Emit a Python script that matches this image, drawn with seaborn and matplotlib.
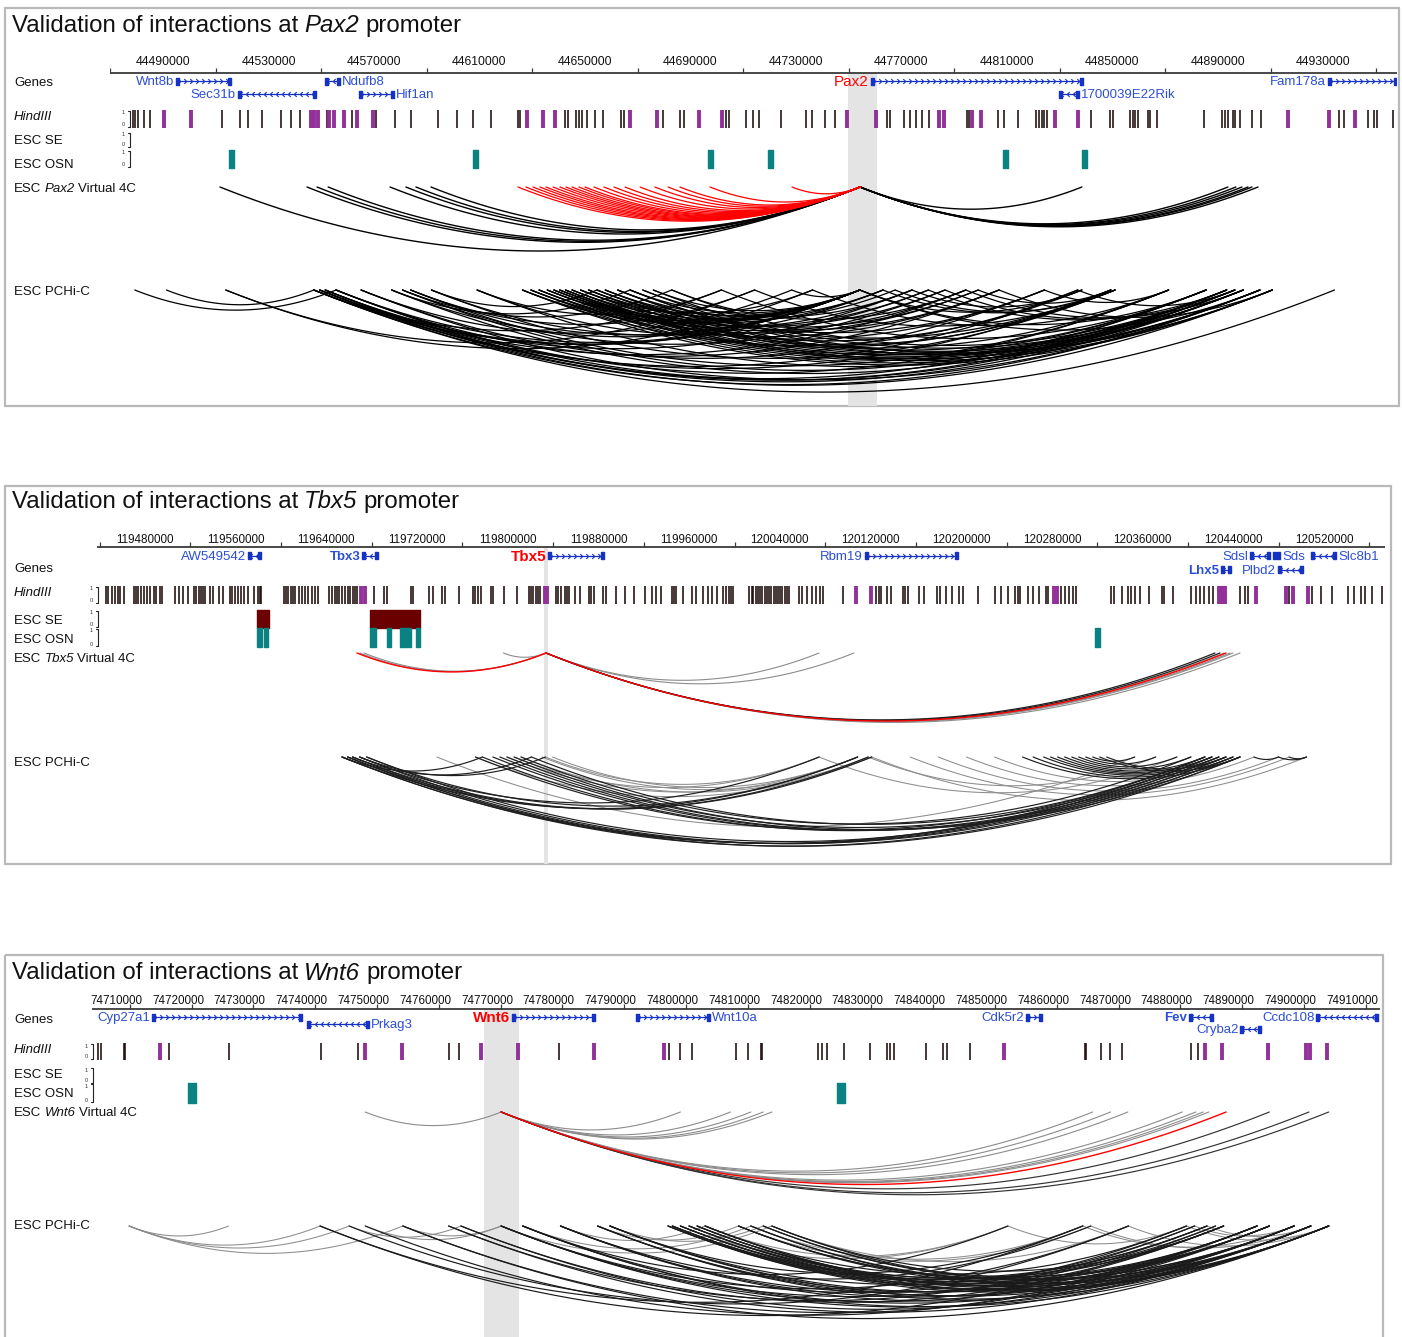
import numpy as np
import matplotlib
matplotlib.use("Agg")
import matplotlib.pyplot as plt
import seaborn as sns
from matplotlib.path import Path
from matplotlib.patches import Rectangle

sns.set_theme(style="white")
plt.rcParams['font.family'] = ['Liberation Sans', 'DejaVu Sans']

# %% data (all genomic positions in kb)
pax2_region = (44469.9, 44957.9)
pax2_tick_labels = [44490, 44530, 44570, 44610, 44650, 44690, 44730, 44770, 44810, 44850, 44890, 44930]
pax2_genes = [  # name, start, end, strand, row, label side, bold, target
    ('Wnt8b', 44494.9, 44515.8, '+', 0, 'L', False, False),
    ('Sec31b', 44518.4, 44548.0, '-', 1, 'L', False, False),
    ('Ndufb8', 44551.4, 44557.1, '-', 0, 'R', False, False),
    ('Hif1an', 44564.3, 44577.6, '+', 1, 'R', False, False),
    ('Pax2', 44758.4, 44838.8, '+', 0, 'L', False, True),
    ('1700039E22Rik', 44829.7, 44837.3, '-', 1, 'R', False, False),
    ('Fam178a', 44931.7, 44957.9, '+', 0, 'L', False, False),
]
pax2_hind_black = [44478.5, 44479.5, 44480.5, 44482.7, 44484.9, 44512.5, 44519.1, 44522.2, 44527.7, 44534.9,
                   44538.5, 44541.9, 44552.2, 44561.6, 44570.9, 44578.0, 44584.0, 44594.3, 44601.4, 44607.5,
                   44614.2, 44624.6, 44625.5, 44642.3, 44643.7, 44646.6, 44647.7, 44648.8, 44650.6, 44653.8,
                   44656.7, 44663.7, 44664.8, 44679.6, 44686.0, 44687.5, 44703.5, 44704.5, 44711.0, 44713.6,
                   44716.1, 44724.2, 44733.7, 44736.1, 44741.2, 44744.8, 44764.7, 44765.5, 44771.1, 44773.2,
                   44775.5, 44777.8, 44780.3, 44794.7, 44795.7, 44806.7, 44808.7, 44814.1, 44820.9, 44822.3,
                   44823.3, 44824.0, 44825.3, 44841.7, 44849.0, 44850.2, 44856.6, 44857.8, 44858.7, 44859.8,
                   44863.4, 44864.2, 44866.9, 44884.6, 44891.5, 44892.7, 44893.8, 44895.7, 44896.4, 44898.3,
                   44902.9, 44906.3, 44935.9, 44937.7, 44946.9, 44949.2, 44950.3, 44956.4]
pax2_hind_purple = [44490.2, 44500.5, 44546.2, 44547.2, 44548.9, 44552.9, 44554.8, 44558.6, 44563.6, 44569.5,
                    44628.1, 44634.2, 44638.8, 44666.9, 44677.3, 44693.1, 44701.9, 44749.5, 44760.5, 44784.1,
                    44786.3, 44796.9, 44800.3, 44828.2, 44836.8, 44916.7, 44932.3, 44941.8]
pax2_se = []
pax2_osn = [(44515.0, 44517.0), (44607.4, 44609.4), (44696.5, 44698.5), (44719.3, 44721.3),
            (44808.5, 44810.5), (44838.5, 44840.5)]
pax2_view = (44749.7, 44760.7)
pax2_anchor = 44754.3
pax2_v4c_black = [44511.6, 44544.6, 44548.4, 44552.6, 44576.1, 44582.1, 44585.9, 44591.6,
                  44838.4, 44893.8, 44896.8, 44899.1, 44901.4, 44902.9, 44905.2]
pax2_v4c_red = [44624.6, 44627.6, 44630.3, 44632.9, 44635.2, 44637.9, 44640.5, 44642.8, 44645.1, 44647.7,
                44650.0, 44653.4, 44657.2, 44661.0, 44665.2, 44670.9, 44676.5, 44681.5, 44686.0, 44697.4, 44728.5]
pax2_pchic = [
    (44479.3, 44555.6), (44491.3, 44547.2), (44513.8, 44736.3), (44513.8, 44714.3),
    (44547.2, 44934.2), (44547.2, 44905.9), (44547.2, 44836.8), (44547.2, 44754.2), (44547.2, 44701.7),
    (44549.4, 44910.6), (44549.4, 44885.5), (44549.4, 44794.4), (44549.4, 44754.2),
    (44551.5, 44899.6), (44551.5, 44893.3), (44551.5, 44849.4), (44551.5, 44774.0),
    (44555.6, 44896.4), (44555.6, 44871.3), (44555.6, 44807.0), (44555.6, 44754.2),
    (44565.1, 44905.9), (44565.1, 44824.2), (44565.1, 44728.4),
    (44576.7, 44893.3), (44576.7, 44754.2), (44576.7, 44667.1),
    (44580.8, 44885.5), (44580.8, 44786.5), (44580.8, 44682.9),
    (44583.9, 44871.3), (44583.9, 44754.2), (44583.9, 44714.3),
    (44591.8, 44851.0), (44591.8, 44763.0), (44591.8, 44654.6),
    (44609.1, 44899.6), (44609.1, 44780.2), (44609.1, 44701.7),
    (44626.3, 44910.6), (44626.3, 44836.8), (44626.3, 44754.2),
    (44629.5, 44905.9), (44629.5, 44807.0), (44629.5, 44754.2),
    (44632.6, 44899.6), (44632.6, 44849.4), (44632.6, 44774.0),
    (44635.7, 44896.4), (44635.7, 44799.1), (44635.7, 44754.2),
    (44638.2, 44893.3), (44638.2, 44824.2), (44638.2, 44763.0),
    (44640.4, 44885.5), (44640.4, 44794.4), (44640.4, 44754.2),
    (44642.6, 44910.6), (44642.6, 44851.0), (44642.6, 44780.2),
    (44645.1, 44905.9), (44645.1, 44838.4), (44645.1, 44754.2),
    (44648.3, 44899.6), (44648.3, 44786.5), (44648.3, 44736.3),
    (44651.4, 44896.4), (44651.4, 44871.3), (44651.4, 44754.2),
    (44654.6, 44893.3), (44654.6, 44807.0), (44654.6, 44767.6),
    (44657.7, 44885.5), (44657.7, 44799.1), (44657.7, 44754.2),
    (44662.4, 44905.9), (44662.4, 44824.2), (44662.4, 44763.0),
    (44667.1, 44899.6), (44667.1, 44849.4), (44667.1, 44754.2),
    (44671.9, 44910.6), (44671.9, 44774.0), (44675.9, 44896.4), (44675.9, 44754.2),
    (44682.9, 44893.3), (44682.9, 44794.4),
    (44701.7, 44885.5), (44714.3, 44851.0), (44728.4, 44754.2), (44736.3, 44871.3),
    (44754.2, 44885.5), (44754.2, 44838.4), (44754.2, 44905.9),
    (44763.0, 44849.4), (44767.6, 44851.0), (44774.0, 44838.4), (44780.2, 44893.3), (44786.5, 44896.4),
    (44794.4, 44899.6), (44799.1, 44849.4), (44807.0, 44910.6), (44824.2, 44871.3), (44836.8, 44896.4),
]
pax2_pchic_gray = []

tbx5_region = (119437.7, 120573.7)
tbx5_tick_labels = [119480, 119560, 119640, 119720, 119800, 119880, 119960, 120040, 120120, 120200,
                    120280, 120360, 120440, 120520]
tbx5_genes = [
    ('AW549542', 119570.8, 119582.3, '-', 0, 'L', False, False),
    ('Tbx3', 119671.8, 119685.2, '-', 0, 'L', True, False),
    ('Tbx5', 119835.6, 119884.5, '+', 0, 'L', True, True),
    ('Rbm19', 120115.0, 120196.9, '+', 0, 'L', False, False),
    ('Sdsl', 120454.6, 120472.3, '-', 0, 'L', False, False),
    ('Sds', 120474.7, 120481.1, '-', 0, 'R', False, False),
    ('Slc8b1', 120508.2, 120530.5, '-', 0, 'R', False, False),
    ('Lhx5', 120429.0, 120437.9, '-', 1, 'L', True, False),
    ('Plbd2', 120479.3, 120501.1, '-', 1, 'L', False, False),
]
tbx5_hind_black = [119445.8, 119447.8, 119450.5, 119453.7, 119456.4, 119458.4, 119461.6, 119470.2, 119472.2,
                   119474.2, 119476.5, 119478.9, 119481.6, 119484.4, 119487.6, 119489.9, 119493.1, 119495.4,
                   119506.5, 119509.6, 119513.9, 119517.9, 119523.4, 119525.4, 119527.3, 119529.3, 119531.3,
                   119533.2, 119537.2, 119539.9, 119545.0, 119549.0, 119554.9, 119557.2, 119559.6, 119562.0,
                   119565.1, 119567.1, 119571.0, 119576.5, 119579.3, 119581.3, 119582.4, 119602.9, 119604.5,
                   119606.5, 119608.4, 119610.4, 119612.4, 119616.3, 119618.7, 119621.0, 119623.8, 119626.9,
                   119629.7, 119632.5, 119642.7, 119645.4, 119647.4, 119649.4, 119651.3, 119653.7, 119656.1,
                   119659.2, 119661.2, 119663.2, 119665.1, 119667.1, 119682.1, 119690.7, 119693.1, 119714.7,
                   119716.3, 119730.9, 119734.0, 119741.9, 119744.7, 119756.9, 119769.5, 119771.4, 119773.4,
                   119776.2, 119785.2, 119787.2, 119797.0, 119807.7, 119818.3, 119820.7, 119822.6, 119824.6,
                   119826.6, 119828.5, 119842.3, 119844.3, 119846.7, 119850.2, 119852.2, 119854.2, 119858.9,
                   119864.0, 119871.9, 119873.8, 119875.8, 119883.7, 119886.8, 119895.5, 119903.4, 119911.2,
                   119921.1, 119927.0, 119930.9, 119934.9, 119944.7, 119946.7, 119948.6, 119954.5, 119962.4,
                   119966.3, 119972.6, 119976.6, 119980.5, 119984.5, 119990.0, 119992.3, 119994.7, 119997.1,
                   119999.0, 120012.8, 120015.2, 120016.7, 120018.7, 120020.7, 120022.7, 120024.6, 120026.6,
                   120028.6, 120030.5, 120032.5, 120034.5, 120036.4, 120038.4, 120040.4, 120042.3, 120044.3,
                   120046.3, 120048.3, 120056.9, 120059.3, 120064.0, 120067.9, 120071.9, 120075.8, 120078.2,
                   120095.5, 120125.0, 120127.0, 120129.0, 120134.1, 120138.0, 120148.7, 120150.6, 120152.6,
                   120162.4, 120167.2, 120178.2, 120181.0, 120186.9, 120192.0, 120197.9, 120201.8, 120214.8,
                   120229.4, 120235.3, 120241.2, 120247.1, 120249.9, 120252.2, 120258.9, 120262.9, 120268.8,
                   120275.1, 120276.6, 120287.7, 120291.6, 120294.7, 120298.3, 120301.0, 120332.1, 120334.9,
                   120341.6, 120346.7, 120349.9, 120353.4, 120357.3, 120365.2, 120377.0, 120379.0, 120386.9,
                   120402.6, 120406.6, 120410.5, 120414.4, 120418.4, 120422.3, 120445.9, 120449.9, 120453.0,
                   120489.2, 120508.9, 120517.6, 120526.7, 120541.2, 120546.3, 120552.3, 120556.2, 120562.1,
                   120571.2]
tbx5_hind_purple = [119670.3, 119674.2, 119832.5, 119834.4, 120107.3, 120120.3, 120281.7, 120284.5, 120427.4,
                    120430.2, 120433.0, 120459.7, 120486.5, 120492.4, 120506.2]
tbx5_se = [(119578.8, 119589.4), (119678.9, 119723.0)]
tbx5_osn = [(119578.8, 119583.6), (119585.0, 119588.5), (119678.9, 119684.0), (119693.1, 119697.4),
            (119705.3, 119714.3), (119719.0, 119723.0), (120318.3, 120321.9)]
tbx5_view = (119832.0, 119835.5)
tbx5_anchor = 119833.7
tbx5_v4c_black = [120423.7, 120428.1]
tbx5_v4c_gray = [119669.6, 119673.2, 119796.1, 120074.5, 120105.3, 120431.6, 120437.0, 120439.6, 120445.8]
tbx5_v4c_red = [119667.0, 120433.4]
tbx5_pchic = [
    (119653.8, 120414.8), (119658.8, 120421.0), (119663.1, 120427.2), (119669.3, 120433.4),
    (119653.8, 120439.6), (119658.8, 120445.8), (119675.5, 120421.0),
    (119771.4, 120414.8), (119777.6, 120427.2), (119786.8, 120433.4), (119793.0, 120439.6),
    (119799.2, 120421.0), (119805.5, 120445.8), (119811.6, 120402.5), (119820.9, 120414.8),
    (119653.8, 120108.6), (119658.8, 120117.9), (119663.1, 120121.0), (119669.3, 120074.6), (119675.5, 120108.6),
    (119663.1, 119820.9), (119669.3, 119833.2), (119653.8, 119777.6),
    (120254.0, 120445.8), (120263.3, 120439.6), (120272.6, 120433.4), (120278.7, 120427.2),
    (120284.9, 120421.0), (120291.1, 120414.8), (120297.4, 120402.5), (120303.5, 120390.1),
    (120309.7, 120371.5), (120315.9, 120353.0), (120322.0, 120445.8), (120328.2, 120433.4),
    (120458.1, 120479.8), (120479.8, 120504.5), (120489.1, 120504.5),
]
tbx5_pchic_gray = [
    (119833.2, 120074.6), (119839.4, 120108.6), (119830.2, 120117.9), (119811.6, 120121.0),
    (119805.5, 120074.6), (119799.2, 120108.6), (119737.4, 120353.0), (119771.4, 120121.0),
    (120155.0, 120489.1), (120121.0, 120504.5), (120179.8, 120479.8), (120204.5, 120458.1),
    (120229.3, 120445.8), (120117.9, 120371.5), (120074.6, 120390.1),
]

wnt6_region = (74706.1, 74914.5)
wnt6_tick_labels = list(range(74710, 74911, 10))
wnt6_genes = [
    ('Cyp27a1', 74715.8, 74740.0, '+', 0, 'L', False, False),
    ('Prkag3', 74740.9, 74750.9, '-', 1, 'R', False, False),
    ('Wnt6', 74774.1, 74787.5, '+', 0, 'L', True, True),
    ('Wnt10a', 74794.2, 74806.1, '+', 0, 'R', False, False),
    ('Cdk5r2', 74857.3, 74859.8, '+', 0, 'L', False, False),
    ('Fev', 74883.6, 74887.5, '-', 0, 'L', True, False),
    ('Cryba2', 74891.9, 74895.3, '-', 2, 'L', False, False),
    ('Ccdc108', 74904.2, 74914.1, '-', 0, 'L', False, False),
]
wnt6_hind_black = [74707.1, 74707.5, 74711.2, 74711.4, 74718.5, 74728.2, 74743.1, 74749.1, 74763.9, 74765.5,
                   74781.6, 74799.4, 74801.2, 74803.2, 74810.3, 74812.3, 74814.3, 74814.5, 74823.5, 74824.2,
                   74825.1, 74827.8, 74832.0, 74834.7, 74835.2, 74835.9, 74841.0, 74843.8, 74844.4, 74848.2,
                   74866.7, 74867.0, 74869.3, 74870.8, 74872.7, 74884.0, 74885.0]
wnt6_hind_purple = [74717.1, 74750.3, 74756.3, 74769.1, 74775.1, 74787.4, 74798.7, 74853.6, 74886.2, 74889.0,
                    74896.3, 74902.6, 74903.2, 74905.9]
wnt6_se = []
wnt6_osn = [(74721.6, 74722.9), (74826.6, 74828.0)]
wnt6_view = (74769.5, 74775.2)
wnt6_anchor = 74772.3
wnt6_v4c_black = [74896.6, 74903.0, 74906.2]
wnt6_v4c_gray = [74750.3, 74801.3, 74809.4, 74812.7, 74814.7, 74816.1, 74868.0, 74870.9, 74873.7,
                 74882.5, 74884.7, 74885.9, 74886.8]
wnt6_v4c_red = [74889.6]
wnt6_pchic = [
    (74743.0, 74887.9), (74750.3, 74894.6), (74756.4, 74896.6), (74763.8, 74884.5), (74765.8, 74889.2),
    (74772.3, 74886.5), (74772.3, 74873.8), (74775.8, 74900.6), (74775.8, 74883.2), (74781.9, 74903.3),
    (74781.9, 74889.2), (74787.9, 74906.2), (74787.9, 74894.6), (74789.9, 74896.6), (74789.9, 74884.5),
    (74799.3, 74906.2), (74799.3, 74900.6), (74800.0, 74903.3), (74800.0, 74896.6), (74801.3, 74894.6),
    (74801.3, 74887.9), (74802.7, 74906.2), (74802.7, 74886.5), (74804.0, 74900.6), (74804.0, 74889.2),
    (74805.3, 74903.3), (74805.3, 74883.2), (74810.7, 74896.6), (74810.7, 74894.6), (74812.7, 74906.2),
    (74814.7, 74900.6), (74816.1, 74903.3), (74775.8, 74854.3), (74781.9, 74867.7), (74789.9, 74866.4),
    (74775.8, 74906.2), (74781.9, 74896.6), (74787.9, 74900.6), (74789.9, 74903.3), (74799.3, 74889.2),
    (74800.0, 74886.5), (74801.3, 74906.2), (74802.7, 74896.6), (74804.0, 74894.6), (74805.3, 74906.2),
    (74810.7, 74903.3), (74812.7, 74900.6), (74814.7, 74896.6), (74816.1, 74889.2), (74763.8, 74903.3),
    (74765.8, 74900.6), (74756.4, 74906.2), (74772.3, 74903.3), (74772.3, 74894.6), (74743.0, 74866.4),
    (74747.7, 74873.8),
]
wnt6_pchic_gray = [
    (74712.1, 74728.2), (74712.1, 74743.0), (74712.1, 74747.7), (74712.1, 74756.4),
    (74750.3, 74772.3), (74747.7, 74765.8), (74756.4, 74772.3),
    (74781.9, 74805.3), (74787.9, 74810.7), (74789.9, 74814.7), (74775.8, 74812.7), (74772.3, 74816.1),
    (74805.3, 74854.3), (74810.7, 74867.7), (74812.7, 74866.4), (74816.1, 74873.8), (74801.3, 74854.3),
    (74854.3, 74883.2), (74866.4, 74900.6), (74867.7, 74903.3), (74873.8, 74906.2), (74883.2, 74906.2),
    (74884.5, 74900.6), (74886.5, 74903.3),
]

# %% layout (pixel rows / columns of the 1402 x 1337 canvas)
W, H = 1402, 1337
GENE_COL = '#1632c4'
LABEL_COL = '#2c4fd6'
ARC_RATIO = 0.1

panels = [
    dict(gene='Pax2', region=pax2_region, ticks=pax2_tick_labels, tick_step=40, tick_off=20, tick_fs=8.8,
         genes=pax2_genes, black=pax2_hind_black, purple=pax2_hind_purple, se=pax2_se, osn=pax2_osn,
         view=pax2_view, anchor=pax2_anchor,
         v4c=[(pax2_v4c_black, 'black', 1.0), (pax2_v4c_red, 'red', 0.9)],
         pchic=[(pax2_pchic, 'black', 0.9), (pax2_pchic_gray, '#888888', 0.8)],
         box=(5, 8, 1399, 406), ruler=(110, 1397), ruler_y=73, label_y=62, title_y=26, rows=[81, 94],
         hind=(110, 128), se_y=(132, 148), osn_y=(150, 168), v4c_y=187, pchic_y=290, bx=130,
         ylab=[83, 117, 141, 165, 189, 292]),
    dict(gene='Tbx5', region=tbx5_region, ticks=tbx5_tick_labels, tick_step=80, tick_off=40, tick_fs=8.4,
         genes=tbx5_genes, black=tbx5_hind_black, purple=tbx5_hind_purple, se=tbx5_se, osn=tbx5_osn,
         view=tbx5_view, anchor=tbx5_anchor,
         v4c=[(tbx5_v4c_gray, '#8c8c8c', 0.8), (tbx5_v4c_black, '#202020', 0.9), (tbx5_v4c_red, 'red', 1.0)],
         pchic=[(tbx5_pchic_gray, '#8c8c8c', 0.75), (tbx5_pchic, '#1e1e1e', 0.85)],
         box=(5, 486, 1391, 864), ruler=(97, 1385), ruler_y=547, label_y=540, title_y=502, rows=[556, 570],
         hind=(586, 604), se_y=(610, 628), osn_y=(628, 647), v4c_y=653, pchic_y=757, bx=98,
         ylab=[569, 593, 621, 640, 659, 763]),
    dict(gene='Wnt6', region=wnt6_region, ticks=wnt6_tick_labels, tick_step=10, tick_off=2.2, tick_fs=8.4,
         genes=wnt6_genes, black=wnt6_hind_black, purple=wnt6_hind_purple, se=wnt6_se, osn=wnt6_osn,
         view=wnt6_view, anchor=wnt6_anchor,
         v4c=[(wnt6_v4c_gray, '#8c8c8c', 0.8), (wnt6_v4c_black, '#333333', 0.85), (wnt6_v4c_red, 'red', 1.0)],
         pchic=[(wnt6_pchic_gray, '#8c8c8c', 0.75), (wnt6_pchic, '#1a1a1a', 0.85)],
         box=(5, 955, 1383, 1345), ruler=(92, 1380), ruler_y=1009, label_y=1001, title_y=973,
         rows=[1017, 1024, 1029], hind=(1043, 1060), se_y=(1067, 1084), osn_y=(1083, 1103), v4c_y=1112,
         pchic_y=1226, bx=93, ylab=[1020, 1050, 1075, 1094, 1113, 1226]),
]

chev_r = Path([(-0.5, 1), (0.5, 0), (-0.5, -1)], [Path.MOVETO, Path.LINETO, Path.LINETO])
chev_l = Path([(0.5, 1), (-0.5, 0), (0.5, -1)], [Path.MOVETO, Path.LINETO, Path.LINETO])


def draw_arcs(ax, pairs, y0, kpx, color, lw):
    for s, e in pairs:
        s, e = min(s, e), max(s, e)
        x = np.linspace(s, e, 120)
        t = (x - (s + e) / 2) / ((e - s) / 2)
        depth = ARC_RATIO * (e - s) * kpx
        ax.plot(x, y0 + depth * (1 - t ** 2), color=color, lw=lw, zorder=3, clip_on=False)


def rich_text(ax, x, y, pieces, size, renderer):
    # pieces drawn left to right, each (text, italic?) joined with one space
    space = 0.25 * size * 100 / 72
    for txt, it in pieces:
        t = ax.text(x, y, txt, fontsize=size, va='center', ha='left', color='#111111',
                    style='italic' if it else 'normal')
        x = t.get_window_extent(renderer).x1 + space


fig = plt.figure(figsize=(W / 100, H / 100), dpi=100)
renderer = fig.canvas.get_renderer()
ov = fig.add_axes([0, 0, 1, 1])
ov.set_xlim(0, W)
ov.set_ylim(H, 0)
ov.axis('off')

for p in panels:
    x0, y0, x1, y1 = p['box']
    ov.add_patch(Rectangle((x0, y0), x1 - x0, y1 - y0, fill=False, edgecolor='#b9b9b9', lw=1.6))
    rich_text(ov, 12, p['title_y'], [('Validation of interactions at', False), (p['gene'], True),
                                     ('promoter', False)], 17.3, renderer)
    yl = p['ylab']
    ov.text(14, yl[0], 'Genes', fontsize=9.5, va='center', color='#111111')
    ov.text(14, yl[1], 'HindIII', fontsize=9.5, va='center', color='#111111', style='italic')
    ov.text(14, yl[2], 'ESC SE', fontsize=9.5, va='center', color='#111111')
    ov.text(14, yl[3], 'ESC OSN', fontsize=9.5, va='center', color='#111111')
    rich_text(ov, 14, yl[4], [('ESC', False), (p['gene'], True), ('Virtual 4C', False)], 9.5, renderer)
    ov.text(14, yl[5], 'ESC PCHi-C', fontsize=9.5, va='center', color='#111111')
    bx = p['bx']
    for (ta, tb) in [p['hind'], p['se_y'], p['osn_y']]:
        ov.plot([bx - 2, bx, bx, bx - 2], [ta + 1, ta + 1, tb - 1, tb - 1], color='#222222', lw=0.8)
        ov.text(bx - 5, ta + 3, '1', fontsize=4, ha='right', va='center', color='#333333')
        ov.text(bx - 5, tb - 3, '0', fontsize=4, ha='right', va='center', color='#333333')

    r0, r1 = p['ruler']
    ax = fig.add_axes([r0 / W, 1 - y1 / H, (r1 - r0) / W, (y1 - y0) / H])
    ax.set_xlim(*p['region'])
    ax.set_ylim(y1, y0)
    ax.axis('off')
    kpx = (r1 - r0) / (p['region'][1] - p['region'][0])  # pixels per kb

    # highlighted view point
    ry = p['ruler_y']
    vs, ve = p['view']
    ax.fill_betweenx([ry, y1], vs, ve, color='#e4e4e4', lw=0, zorder=0)

    # ruler
    ax.plot(p['region'], [ry, ry], color='#3a3a3a', lw=1.3, zorder=4, solid_capstyle='butt')
    tpos = np.arange(p['ticks'][0] + p['tick_off'] - p['tick_step'], p['region'][1], p['tick_step'])
    tpos = tpos[tpos > p['region'][0]]
    ax.vlines(tpos, ry - 5, ry, color='#3a3a3a', lw=0.9, zorder=4)
    for v in p['ticks']:
        ax.text(v, p['label_y'], '%d' % round(v * 1000), fontsize=p['tick_fs'], ha='center', va='center',
                color='#111111')

    # genes
    for name, s, e, strand, row, side, bold, target in p['genes']:
        gy = p['rows'][row]
        ax.plot([s, e], [gy, gy], color=GENE_COL, lw=0.9, zorder=4)
        step = 6 / kpx
        cx = np.arange(s + step / 2, e - step / 3, step)
        ax.plot(cx, np.full(len(cx), gy), ls='none', marker=chev_r if strand == '+' else chev_l,
                ms=3.5, mew=0.8, mec=GENE_COL, mfc='none', zorder=4)
        cap = 3 / kpx
        ax.broken_barh([(s, cap), (e - cap, cap)], (gy - 3.5, 7), color=GENE_COL, zorder=4)
        col = 'red' if target else LABEL_COL
        wt = 'bold' if bold else 'normal'
        fs = 11 if target else 9.5
        if side == 'L':
            ax.text(s - 2 / kpx, gy + 1, name, ha='right', va='center', fontsize=fs, color=col, weight=wt)
        else:
            ax.text(e + 2 / kpx, gy + 1, name, ha='left', va='center', fontsize=fs, color=col, weight=wt)

    # HindIII fragments
    ha, hb = p['hind']
    ax.vlines(p['black'], ha, hb, color='#1e0b0b', lw=1.15, zorder=3)
    ax.vlines(p['purple'], ha, hb, color='#93309a', lw=2.8, zorder=3)

    # super-enhancers and OSN peaks
    sa, sb = p['se_y']
    if p['se']:
        ax.broken_barh([(s, e - s) for s, e in p['se']], (sa, sb - sa), color='#6b0000', zorder=3)
    oa, ob = p['osn_y']
    ax.broken_barh([(s, e - s) for s, e in p['osn']], (oa, ob - oa), color='#0a8282', zorder=3)

    # virtual 4C from the promoter anchor
    for ends, col, lw in p['v4c']:
        draw_arcs(ax, [(p['anchor'], e) for e in ends], p['v4c_y'], kpx, col, lw)

    # PCHi-C interactions
    for pairs, col, lw in p['pchic']:
        draw_arcs(ax, pairs, p['pchic_y'], kpx, col, lw)

fig.savefig('out.png', dpi=100)
